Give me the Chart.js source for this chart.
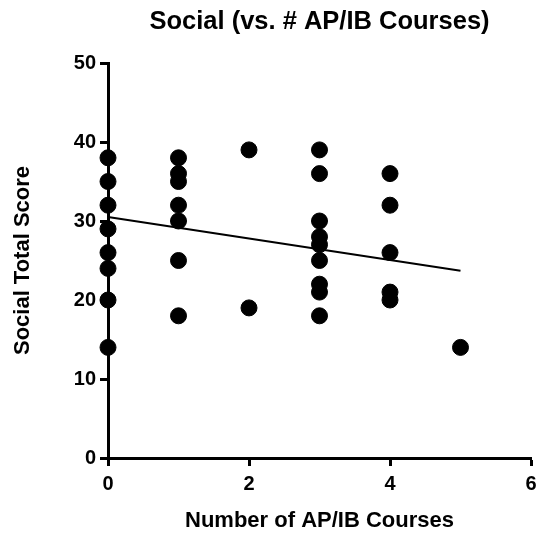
<!DOCTYPE html>
<html>
<head>
<meta charset="utf-8">
<title>Social (vs. # AP/IB Courses)</title>
<script src="https://cdn.jsdelivr.net/npm/chart.js@4/dist/chart.umd.min.js"></script>
<style>
  html, body { margin: 0; padding: 0; background: #fff; }
  #wrap { width: 540px; height: 536px; }
</style>
</head>
<body>
<div id="wrap"><canvas id="chart" width="540" height="536"></canvas></div>
<script>
// Number of AP/IB courses taken by each student
const courses = [
  0, 0, 0, 0, 0, 0, 0, 0,
  1, 1, 1, 1, 1, 1, 1,
  2, 2,
  3, 3, 3, 3, 3, 3, 3, 3, 3,
  4, 4, 4, 4, 4,
  5
];
// Social total score for the same students
const socialScores = [
  38, 35, 32, 29, 26, 24, 20, 14,
  38, 36, 35, 32, 30, 25, 18,
  39, 19,
  39, 36, 30, 28, 27, 25, 22, 21, 18,
  36, 32, 26, 21, 20,
  14
];
// Fitted regression line endpoints
const fitX = [0, 5];
const fitY = [30.5, 23.7];

const yTicks = [0, 10, 20, 30, 40, 50];
const xTicks = [0, 2, 4, 6];

const FONT = "'Liberation Sans', Arial, Helvetica, sans-serif";

const points = courses.map((c, i) => ({ x: c, y: socialScores[i] }));
const fitLine = fitX.map((x, i) => ({ x: x, y: fitY[i] }));

new Chart(document.getElementById('chart'), {
  type: 'scatter',
  data: {
    datasets: [
      {
        label: 'Fit',
        type: 'line',
        data: fitLine,
        borderColor: '#000',
        borderWidth: 2,
        pointRadius: 0,
        fill: false,
        clip: false,
        order: 1
      },
      {
        label: 'Students',
        data: points,
        backgroundColor: '#000',
        borderColor: '#000',
        pointRadius: 8,
        pointHoverRadius: 8,
        clip: false,
        order: 0
      }
    ]
  },
  options: {
    responsive: false,
    animation: false,
    layout: { padding: { left: 0, right: 8, top: 0, bottom: 0 } },
    plugins: {
      legend: { display: false },
      tooltip: { enabled: false },
      title: {
        display: true,
        text: 'Social (vs. # AP/IB Courses)',
        fullSize: false,
        color: '#000',
        font: { family: FONT, size: 25.5, weight: 'bold' },
        padding: { top: 7, bottom: 25.4 }
      }
    },
    scales: {
      x: {
        type: 'linear',
        min: 0,
        max: 6,
        afterBuildTicks: (s) => { s.ticks = xTicks.map(v => ({ value: v })); },
        afterFit: (s) => { s.height = 78; s.paddingLeft = 0; s.paddingRight = 0; },
        border: { display: true, color: '#000', width: 3 },
        grid: { drawOnChartArea: false, drawTicks: true, tickLength: 8, tickWidth: 3, tickColor: '#000' },
        ticks: {
          color: '#000',
          padding: 6,
          font: { family: FONT, size: 20, weight: 'bold' }
        },
        title: {
          display: true,
          text: 'Number of AP/IB Courses',
          color: '#000',
          font: { family: FONT, size: 22, weight: 'bold' },
          padding: { top: 0, bottom: 2 }
        }
      },
      y: {
        type: 'linear',
        min: 0,
        max: 50,
        afterBuildTicks: (s) => { s.ticks = yTicks.map(v => ({ value: v })); },
        afterFit: (s) => { s.width = 108; },
        border: { display: true, color: '#000', width: 3 },
        grid: { drawOnChartArea: false, drawTicks: true, tickLength: 8, tickWidth: 3, tickColor: '#000' },
        ticks: {
          color: '#000',
          padding: 4,
          font: { family: FONT, size: 20, weight: 'bold' }
        },
        title: {
          display: true,
          text: 'Social Total Score',
          color: '#000',
          font: { family: FONT, size: 22, weight: 'bold' },
          padding: { top: 10, bottom: 0 }
        }
      }
    }
  }
});
</script>
</body>
</html>
